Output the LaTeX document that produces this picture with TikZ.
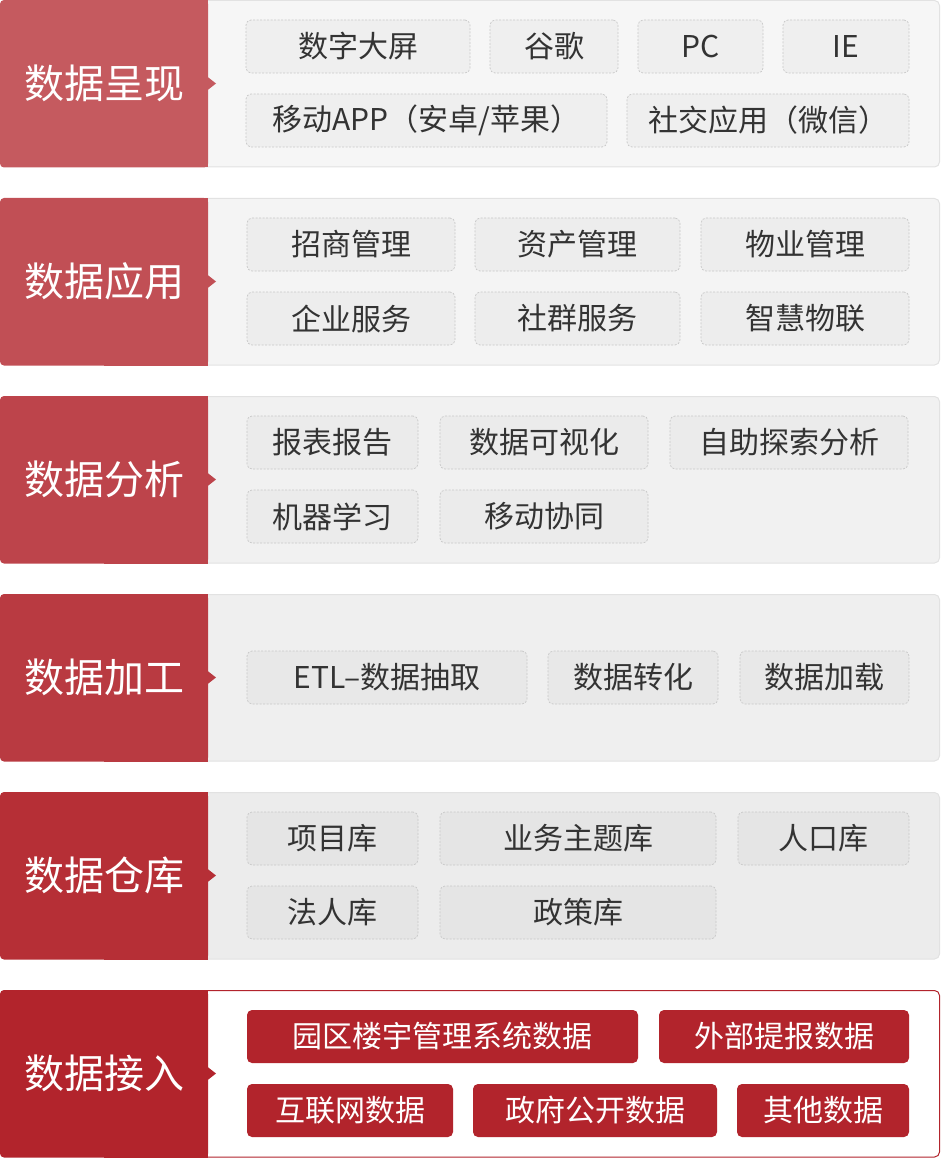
\documentclass[tikz,border=0pt]{standalone}
\usepackage{fontspec}
\setmainfont{Noto Sans CJK SC}
\definecolor{bA}{RGB}{197,90,95}
\definecolor{bB}{RGB}{193,79,85}
\definecolor{bC}{RGB}{189,68,75}
\definecolor{bD}{RGB}{185,58,65}
\definecolor{bE}{RGB}{182,47,54}
\definecolor{bF}{RGB}{178,36,44}
\definecolor{pA}{HTML}{F6F6F6}
\definecolor{pB}{HTML}{F4F4F4}
\definecolor{pC}{HTML}{F1F1F1}
\definecolor{pD}{HTML}{EFEFEF}
\definecolor{pE}{HTML}{ECECEC}
\definecolor{iA}{HTML}{EFEFEF}
\definecolor{iB}{HTML}{EDEDED}
\definecolor{iC}{HTML}{EBEBEB}
\definecolor{iD}{HTML}{E8E8E8}
\definecolor{iE}{HTML}{E5E5E5}
\definecolor{pline}{HTML}{E2E2E2}
\definecolor{itemline}{HTML}{C8C8C8}
\definecolor{txt}{HTML}{333333}
\newcommand\ibox[7]{%
  \node[#1, minimum width={(#5)-(#3)}, minimum height={(#6)-(#4)}] (#2)
    at ({((#3)+(#5))/2},{((#4)+(#6))/2}) {\raisebox{-1.2pt}{#7}};}
\newcommand\layer[4]{% #1 y0, #2 block colour, #3 panel fill, #4 panel line
  \filldraw[fill=#3, draw=#4, line width=1pt, rounded corners=5pt]
    (200,{#1+0.5}) rectangle (939.5,{#1+167});
  \fill[#2, rounded corners=4pt] (0,#1) rectangle (208,{#1+167.5});
  \fill[#2] (104,#1) rectangle (208,{#1+167.5});
  \fill[#2] (207,{#1+76.5}) -- (216,{#1+83.5}) -- (207,{#1+90.5}) -- cycle;}
\begin{document}
\begin{tikzpicture}[x=1pt,y=-1pt,
  lbl/.style={text=white,font=\fontsize{40}{48}\selectfont, inner sep=0pt},
  item/.style={draw=itemline, dash pattern=on 2pt off 1.5pt, line width=0.7pt,
    rounded corners=5pt, text=txt, font=\fontsize{30}{36}\selectfont, inner sep=0pt},
  ritem/.style={fill=bF, rounded corners=5pt, text=white,
    font=\fontsize{30}{36}\selectfont, inner sep=0pt}]
\useasboundingbox (0,0) rectangle (940,1158);
% layers
\layer{0}{bA}{pA}{pline}
\layer{198}{bB}{pB}{pline}
\layer{396}{bC}{pC}{pline}
\layer{594}{bD}{pD}{pline}
\layer{792}{bE}{pE}{pline}
\layer{990}{bF}{white}{bF}
% labels
\node[lbl] (L1) at (104.5,83.5) {数据呈现};
\node[lbl] (L2) at (104.5,281.5) {数据应用};
\node[lbl] (L3) at (104.5,479.5) {数据分析};
\node[lbl] (L4) at (104.5,677.5) {数据加工};
\node[lbl] (L5) at (104.5,875.5) {数据仓库};
\node[lbl] (L6) at (104.5,1073.5) {数据接入};
% row 1
\ibox{item,fill=iA}{a1}{246}{20}{470}{73}{数字大屏}
\ibox{item,fill=iA}{a2}{490}{20}{618}{73}{谷歌}
\ibox{item,fill=iA}{a3}{638}{20}{763}{73}{PC}
\ibox{item,fill=iA}{a4}{783}{20}{909}{73}{IE}
\ibox{item,fill=iA}{a5}{246}{94}{607}{147}{移动APP（安卓/苹果）}
\ibox{item,fill=iA}{a6}{627}{94}{909}{147}{社交应用（微信）}
% row 2
\ibox{item,fill=iB}{b1}{247}{218}{455}{271}{招商管理}
\ibox{item,fill=iB}{b2}{475}{218}{680}{271}{资产管理}
\ibox{item,fill=iB}{b3}{701}{218}{909}{271}{物业管理}
\ibox{item,fill=iB}{b4}{247}{292}{455}{345}{企业服务}
\ibox{item,fill=iB}{b5}{475}{292}{680}{345}{社群服务}
\ibox{item,fill=iB}{b6}{701}{292}{909}{345}{智慧物联}
% row 3
\ibox{item,fill=iC}{c1}{247}{416}{418}{469}{报表报告}
\ibox{item,fill=iC}{c2}{440}{416}{648}{469}{数据可视化}
\ibox{item,fill=iC}{c3}{670}{416}{908}{469}{自助探索分析}
\ibox{item,fill=iC}{c4}{247}{490}{418}{543}{机器学习}
\ibox{item,fill=iC}{c5}{440}{490}{648}{543}{移动协同}
% row 4
\ibox{item,fill=iD}{d1}{247}{651}{527}{704}{ETL–数据抽取}
\ibox{item,fill=iD}{d2}{548}{651}{718}{704}{数据转化}
\ibox{item,fill=iD}{d3}{740}{651}{909}{704}{数据加载}
% row 5
\ibox{item,fill=iE}{e1}{247}{812}{418}{865}{项目库}
\ibox{item,fill=iE}{e2}{440}{812}{716}{865}{业务主题库}
\ibox{item,fill=iE}{e3}{738}{812}{909}{865}{人口库}
\ibox{item,fill=iE}{e4}{247}{886}{418}{939}{法人库}
\ibox{item,fill=iE}{e5}{440}{886}{716}{939}{政策库}
% row 6
\ibox{ritem}{f1}{247}{1010}{638}{1063}{园区楼宇管理系统数据}
\ibox{ritem}{f2}{659}{1010}{909}{1063}{外部提报数据}
\ibox{ritem}{f3}{247}{1084}{453}{1137}{互联网数据}
\ibox{ritem}{f4}{473}{1084}{717}{1137}{政府公开数据}
\ibox{ritem}{f5}{737}{1084}{909}{1137}{其他数据}
\end{tikzpicture}
\end{document}
